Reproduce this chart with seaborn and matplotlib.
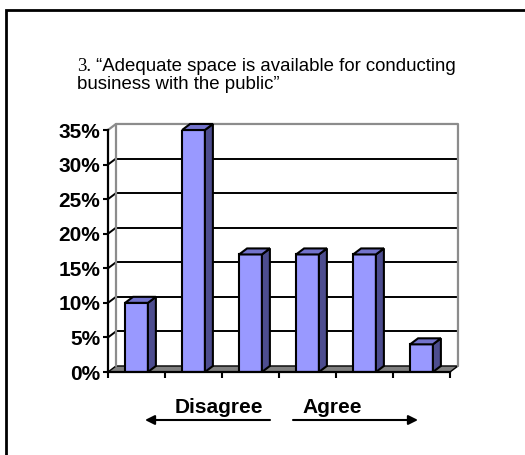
import matplotlib
matplotlib.use("Agg")
import matplotlib.pyplot as plt
from matplotlib.patches import Polygon, Rectangle, FancyArrowPatch
import seaborn as sns
import pandas as pd

# Survey item: share of respondents at each point of the 6-point scale
scale_points = ["1", "2", "3", "4", "5", "6"]
percent_responding = [10, 35, 17, 17, 17, 4]
y_ticks = [0, 5, 10, 15, 20, 25, 30, 35]
y_tick_labels = [f"{t}%" for t in y_ticks]
title_number = "3."
title_line1 = " \u201cAdequate space is available for conducting"
title_line2 = "business with the public\u201d"
left_label = "Disagree"
right_label = "Agree"

FRONT = "#9999FF"
SIDE = "#4D4D8F"
TOP = "#7373CC"
FLOOR = "#808080"
WALL = "#8C8C8C"

sns.set_theme(style="white")
plt.rcParams["font.family"] = ["Liberation Sans", "DejaVu Sans"]
plt.rcParams["text.color"] = "black"
plt.rcParams["axes.labelcolor"] = "black"
plt.rcParams["xtick.color"] = "black"
plt.rcParams["ytick.color"] = "black"

W, H = 525, 455
fig = plt.figure(figsize=(W / 100, H / 100), dpi=100)
fig.patch.set_facecolor("white")
ax = fig.add_axes([108 / W, 1 - 372 / H, 342 / W, 242 / H])
ax.set_facecolor("none")

df = pd.DataFrame({"point": scale_points, "pct": percent_responding})
sns.barplot(data=df, x="point", y="pct", color=FRONT, saturation=1,
            width=0.4, edgecolor="black", linewidth=1.5, ax=ax, zorder=3)

ax.set_xlim(-0.5, len(scale_points) - 0.5)
ax.set_ylim(0, 35)
x_lo, x_hi = ax.get_xlim()

# depth of the pseudo-3D box (category units, percent units)
DX, DY = 0.14, 0.87

# floor
ax.add_patch(Polygon([(x_lo, 0), (x_hi, 0), (x_hi + DX, DY), (x_lo + DX, DY)],
                     closed=True, facecolor=FLOOR, edgecolor="black",
                     linewidth=1.0, zorder=1, clip_on=False))

# back-wall gridlines plus their short run across the left wall
for t in y_ticks[1:-1]:
    ax.plot([x_lo + DX, x_hi + DX], [t + DY, t + DY], color="black",
            lw=1.4, zorder=1.5, clip_on=False, solid_capstyle="butt")
    ax.plot([x_lo, x_lo + DX], [t, t + DY], color="black",
            lw=1.4, zorder=1.5, clip_on=False)

top = y_ticks[-1]
ax.plot([x_lo, x_lo + DX, x_hi + DX, x_hi + DX], [top, top + DY, top + DY, DY],
        color=WALL, lw=1.6, zorder=1.5, clip_on=False)
ax.plot([x_lo + DX, x_lo + DX], [DY, top + DY], color=WALL, lw=1.6,
        zorder=1.5, clip_on=False)

# side and top faces of each bar
for p in ax.patches:
    if not isinstance(p, Rectangle):
        continue
    x0, w, h = p.get_x(), p.get_width(), p.get_height()
    if w <= 0 or w > 1:
        continue
    x1 = x0 + w
    ax.add_patch(Polygon([(x1, 0), (x1 + DX, DY), (x1 + DX, h + DY), (x1, h)],
                         closed=True, facecolor=SIDE, edgecolor="black",
                         linewidth=1.5, zorder=3, clip_on=False))
    ax.add_patch(Polygon([(x0, h), (x1, h), (x1 + DX, h + DY), (x0 + DX, h + DY)],
                         closed=True, facecolor=TOP, edgecolor="black",
                         linewidth=1.5, zorder=3, clip_on=False))

# axes lines and ticks
for s in ["top", "right"]:
    ax.spines[s].set_visible(False)
for s in ["left", "bottom"]:
    ax.spines[s].set_color("black")
    ax.spines[s].set_linewidth(1.6)
    ax.spines[s].set_zorder(4)

ax.set_yticks(y_ticks)
ax.set_yticklabels(y_tick_labels, fontsize=15, fontweight="bold",
                   color="black")
ax.set_xticks([x_lo + i for i in range(len(scale_points) + 1)])
ax.set_xticklabels([])
ax.tick_params(axis="y", direction="out", length=3.6, width=1.5, pad=2,
               color="black", labelcolor="black", left=True)
ax.tick_params(axis="x", direction="out", length=4.3, width=1.5,
               color="black", bottom=True)
ax.set_xlabel("")
ax.set_ylabel("")
ax.grid(False)

# title
t1 = fig.text(77 / W, 1 - 71 / H, title_number, fontsize=13.4, color="black",
              family=["Liberation Serif", "DejaVu Serif"], va="baseline")
ax.annotate(title_line1, xy=(1, 0), xycoords=t1, fontsize=13.4,
            color="black", va="bottom", ha="left", annotation_clip=False)
fig.text(77 / W, 1 - 89 / H, title_line2, fontsize=13.4, color="black",
         va="baseline")

# direction labels and arrows
fig.text(175 / W, 1 - 413 / H, left_label, fontsize=15, fontweight="bold",
         color="black", va="baseline")
fig.text(302 / W, 1 - 413 / H, right_label, fontsize=15, fontweight="bold",
         color="black", va="baseline")
for a, b in [((270, 420), (145, 420)), ((293, 420), (418, 420))]:
    fig.add_artist(FancyArrowPatch((a[0] / W, 1 - a[1] / H),
                                   (b[0] / W, 1 - b[1] / H),
                                   transform=fig.transFigure,
                                   arrowstyle="-|>", mutation_scale=14,
                                   lw=1.5, color="black",
                                   shrinkA=0, shrinkB=0))

# outer frame
fig.add_artist(Rectangle((6 / W, -0.2), 1.5, 1 - 10 / H + 0.2,
                         transform=fig.transFigure, fill=False,
                         edgecolor="black", linewidth=2))

fig.savefig("out.png", dpi=100)
